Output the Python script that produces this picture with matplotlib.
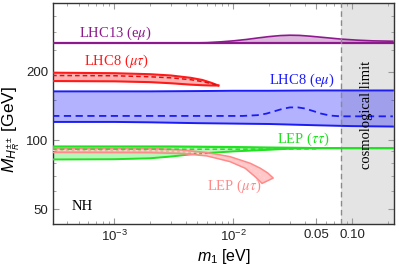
import numpy as np
import matplotlib
matplotlib.use("Agg")
import matplotlib.pyplot as plt

plt.rcParams['font.family'] = ['Liberation Sans', 'DejaVu Sans']
plt.rcParams['mathtext.fontset'] = 'custom'
plt.rcParams['mathtext.rm'] = 'Liberation Sans'
plt.rcParams['mathtext.it'] = 'Liberation Sans:italic'

# ---------------- data ----------------
# LHC13 (e mu)
lhc13_m1 = [3e-4, 4e-3, 6e-3, 8e-3, 0.01, 0.013, 0.016, 0.02, 0.025, 0.03, 0.036,
            0.045, 0.06, 0.08, 0.11, 0.15, 0.22]
lhc13_up = [267, 267, 268, 270.5, 273, 277, 281, 285, 288, 289, 288.5,
            286, 282, 278, 275, 273, 272]
lhc13_lo = [267, 267, 267, 267, 267, 267, 267, 267, 267, 267, 267,
            267, 267, 267, 267, 267, 267]

# LHC8 (mu tau)
lhc8mt_m1 = [3e-4, 1e-3, 2e-3, 3e-3, 4.4e-3, 5.5e-3, 6.5e-3, 7.5e-3]
lhc8mt_up = [198, 197, 195, 192.5, 188, 184, 179, 174]
lhc8mt_lo = [182, 181.5, 180, 178, 175.5, 174.5, 174, 174]
lhc8mt_dash_m1 = [3e-4, 1e-3, 2e-3, 3e-3, 4.4e-3, 5.5e-3, 6.5e-3, 7.2e-3]
lhc8mt_dash = [192.5, 192, 190, 188, 184.5, 181, 177.5, 175]

# LHC8 (e mu)
lhc8em_m1 = [3e-4, 1e-3, 2e-3, 5e-3, 1e-2, 2e-2, 5e-2, 0.1, 0.22]
lhc8em_up = [164, 164, 164, 164.5, 165, 165, 165.5, 165.5, 165.5]
lhc8em_lo = [120.5, 120.5, 120, 119, 118.5, 118, 116.5, 115.5, 115]
lhc8em_dash_m1 = [3e-4, 0.012, 0.016, 0.019, 0.022, 0.026, 0.03, 0.035, 0.04,
                  0.047, 0.055, 0.065, 0.08, 0.22]
lhc8em_dash = [128, 128, 129, 131, 134, 137.5, 139.5, 139.5, 138,
               134.5, 131, 128.5, 127.5, 127.5]

# LEP (tau tau)
leptt_m1 = [3e-4, 1e-3, 2e-3, 3e-3, 5e-3, 0.01, 0.02, 0.03, 0.05, 0.22]
leptt_up = [94, 94, 94, 94, 93.8, 93.5, 93, 92.8, 92.5, 92.5]
leptt_lo = [82.5, 82.7, 83.5, 85, 87.5, 89.5, 91, 92, 92.5, 92.5]
leptt_dash_m1 = [3e-4, 0.01, 0.05]
leptt_dash = [91.5, 91.5, 91.8]

# LEP (mu tau)
lepmt_up_m1 = [3e-4, 2e-3, 3.6e-3, 6e-3, 9.4e-3, 0.0139, 0.0169, 0.0195, 0.0217]
lepmt_up = [92.5, 92.3, 90.9, 88.5, 84.9, 79.4, 75.5, 72, 68.4]
lepmt_lo_m1 = [3e-4, 2e-3, 3.6e-3, 6e-3, 9.4e-3, 0.0126, 0.0153, 0.0175]
lepmt_lo = [88.5, 88.3, 87.6, 85.5, 80.7, 75.5, 69.3, 64.8]
lepmt_dash_m1 = [3e-4, 2e-3, 3.6e-3, 6e-3, 9.4e-3, 0.013, 0.016, 0.0185]
lepmt_dash = [90.5, 90.3, 89.3, 87, 82.8, 77.5, 72.5, 68]

cosmo_limit = 0.08
xlim = (3.05e-4, 0.225)
ylim = (43, 400)

# ---------------- plot ----------------
fig = plt.figure(figsize=(3.99, 2.68), dpi=100)
ax = fig.add_axes([0.1328, 0.164, 0.8547, 0.8248])
ax.set_xscale('log')
ax.set_yscale('log')
ax.set_xlim(*xlim)
ax.set_ylim(*ylim)

ax.axvspan(cosmo_limit, xlim[1], color='#e4e4e4', zorder=0, lw=0)
ax.axvline(cosmo_limit, color='#8a8a8a', ls=(0, (4, 2.5)), lw=1.0, zorder=5)

# LHC13
purple = '#8c1a8c'
ax.fill_between(lhc13_m1, lhc13_lo, lhc13_up, color=purple, alpha=0.3, lw=0, zorder=2)
ax.plot(lhc13_m1, lhc13_up, color=purple, lw=1.2, zorder=3)
ax.plot(lhc13_m1, lhc13_lo, color=purple, lw=1.6, zorder=3)

# LHC8 e mu
blue = '#1c1cf5'
ax.fill_between(lhc8em_m1, lhc8em_lo, lhc8em_up, color='#0000ff', alpha=0.3, lw=0, zorder=2)
ax.plot(lhc8em_m1, lhc8em_up, color=blue, lw=1.4, zorder=3)
ax.plot(lhc8em_m1, lhc8em_lo, color=blue, lw=1.4, zorder=3)
ax.plot(lhc8em_dash_m1, lhc8em_dash, color=blue, lw=1.3, ls=(0, (4, 2.5)), zorder=3)

# LHC8 mu tau
red = '#ff1a1a'
ax.fill_between(lhc8mt_m1, lhc8mt_lo, lhc8mt_up, color='#ff0000', alpha=0.3, lw=0, zorder=2)
ax.plot(lhc8mt_m1, lhc8mt_up, color=red, lw=1.5, zorder=3)
ax.plot(lhc8mt_m1, lhc8mt_lo, color=red, lw=1.5, zorder=3)
ax.plot(lhc8mt_dash_m1, lhc8mt_dash, color='#e01010', lw=1.1, ls=(0, (3, 2)), zorder=3)

# LEP tau tau
green = '#22e022'
ax.fill_between(leptt_m1, leptt_lo, leptt_up, color='#00dd00', alpha=0.28, lw=0, zorder=2)
ax.plot(leptt_m1, leptt_up, color=green, lw=1.6, zorder=3)
ax.plot(leptt_m1, leptt_lo, color=green, lw=1.4, zorder=3)

# LEP mu tau
pink = '#ff8a8a'
px = np.concatenate([lepmt_up_m1, lepmt_lo_m1[::-1]])
py = np.concatenate([lepmt_up, lepmt_lo[::-1]])
ax.fill(px, py, color='#ff6060', alpha=0.35, lw=0, zorder=3)
ax.plot(px, py, color=pink, lw=1.1, zorder=4)
ax.plot(lepmt_dash_m1, lepmt_dash, color='#ffd0d0', lw=1.0, ls=(0, (2, 2)), zorder=4)
ax.plot(leptt_dash_m1, leptt_dash, color=green, lw=1.1, ls=(0, (3, 2)), zorder=4)

# texts
serif = ['Liberation Serif', 'DejaVu Serif']
fs = 10.5
kw = dict(fontsize=fs, family=serif, ha='center', va='center', math_fontfamily='stix')
ax.text(1.02e-3, 294, r'LHC13 (e$\mu$)', color=purple, **kw)
ax.text(1.04e-3, 221, r'LHC8 ($\mu\tau$)', color=red, **kw)
ax.text(0.038, 184, r'LHC8 (e$\mu$)', color=blue, **kw)
ax.text(0.0387, 101.5, r'LEP ($\tau\tau$)', color=green, **kw)
ax.text(0.0102, 63, r'LEP ($\mu\tau$)', color='#ff8a8a', **kw)
ax.text(5.33e-4, 51.3, 'NH', color='black', **kw)
ax.text(0.131, 129.4, 'cosmological limit', color='black', rotation=90, **kw)

# axes / ticks
ax.set_xticks([1e-3, 1e-2, 0.05, 0.1])
ax.set_xticklabels([r'$10^{-3}$', r'$10^{-2}$', '0.05', '0.10'])
xminor = [4e-4, 5e-4, 6e-4, 7e-4, 8e-4, 9e-4, 2e-3, 3e-3, 4e-3, 5e-3, 6e-3, 7e-3, 8e-3, 9e-3,
          2e-2, 3e-2, 4e-2, 6e-2, 7e-2, 8e-2, 9e-2, 0.2]
ax.set_xticks(xminor, minor=True)
ax.set_xticklabels([], minor=True)
ax.set_yticks([50, 100, 200])
ax.set_yticklabels(['50', '100', '200'])
ax.set_yticks([60, 70, 80, 90, 150, 250, 300, 350], minor=True)
ax.set_yticklabels([], minor=True)
ax.tick_params(which='both', direction='in', top=True, right=True, color='#999999',
               labelsize=9.5, labelcolor='#222222')
ax.tick_params(which='major', length=4, width=0.8)
ax.tick_params(which='minor', length=2, width=0.6)
for s in ax.spines.values():
    s.set_color('#333333')
    s.set_linewidth(1.0)

ax.set_xlabel(r'$m_1$ [eV]', fontsize=11.5, labelpad=2)
ax.set_ylabel(r'$M_{H_R^{\pm\pm}}$ [GeV]', fontsize=12.5, labelpad=1)
ax.yaxis.set_label_coords(-0.092, 0.43)

fig.savefig('out.png', dpi=100)
